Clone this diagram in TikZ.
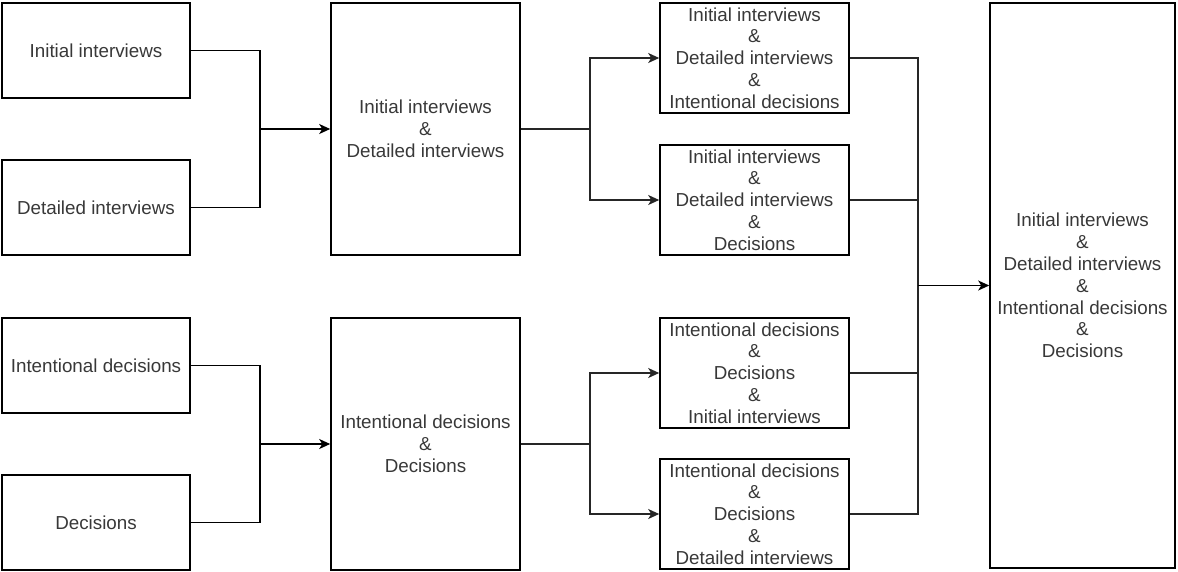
\documentclass[tikz,border=0pt]{standalone}
\usepackage{fontspec}
\setmainfont{Liberation Sans}
\usetikzlibrary{arrows.meta}
\begin{document}
\begin{tikzpicture}[x=1pt,y=-1pt,
  box/.style={draw=black, line width=1.6pt, rectangle, inner sep=0pt,
    align=center, text=black!78, font=\fontsize{18.8}{21.8}\selectfont},
  link/.style={line width=1.6pt, draw=black!85},
  tip/.style={-{Stealth[length=11pt,width=10pt,inset=3pt]}}]
\useasboundingbox (0,0) rectangle (1178,571);

% source boxes
\node[box, minimum width=188pt, minimum height=95pt] (i1) at (96,50.5) {Initial interviews};
\node[box, minimum width=188pt, minimum height=95pt] (i2) at (96,207.5) {Detailed interviews};
\node[box, minimum width=188pt, minimum height=95pt] (i3) at (96,365.5) {Intentional decisions};
\node[box, minimum width=188pt, minimum height=95pt] (i4) at (96,522.5) {Decisions};

% pairwise combinations
\node[box, minimum width=189pt, minimum height=252pt] (m1) at (425.5,129) {Initial interviews\\\&\\Detailed interviews};
\node[box, minimum width=189pt, minimum height=252pt] (m2) at (425.5,444) {Intentional decisions\\\&\\Decisions};

% triple combinations
\node[box, minimum width=189pt, minimum height=110pt] (a1) at (754.5,58) {Initial interviews\\\&\\Detailed interviews\\\&\\Intentional decisions};
\node[box, minimum width=189pt, minimum height=110pt] (a2) at (754.5,200) {Initial interviews\\\&\\Detailed interviews\\\&\\Decisions};
\node[box, minimum width=189pt, minimum height=110pt] (a3) at (754.5,373) {Intentional decisions\\\&\\Decisions\\\&\\Initial interviews};
\node[box, minimum width=189pt, minimum height=110pt] (a4) at (754.5,514) {Intentional decisions\\\&\\Decisions\\\&\\Detailed interviews};

% full combination
\node[box, minimum width=185pt, minimum height=565pt] (r) at (1082.5,285.5) {Initial interviews\\\&\\Detailed interviews\\\&\\Intentional decisions\\\&\\Decisions};

% junction points
\coordinate (j1) at (260,129);
\coordinate (j2) at (260,444);
\coordinate (b1) at (590,129);
\coordinate (b2) at (590,444);
\coordinate (j3) at (918,285.5);

% merging the sources
\draw[link, draw=black] (i1.east) -| (j1) |- (i2.east);
\draw[link, draw=black, tip] (j1) -- (m1.west);
\draw[link, draw=black] (i3.east) -| (j2) |- (i4.east);
\draw[link, draw=black, tip] (j2) -- (m2.west);

% branching to the triples
\draw[link] (m1.east) -- (b1);
\draw[link, tip] (b1) |- (a1.west);
\draw[link, tip] (b1) |- (a2.west);
\draw[link] (m2.east) -- (b2);
\draw[link, tip] (b2) |- (a3.west);
\draw[link, tip] (b2) |- (a4.west);

% merging into the full set
\draw[link] (a1.east) -| (j3);
\draw[link] (a2.east) -| (j3);
\draw[link] (a3.east) -| (j3);
\draw[link] (a4.east) -| (j3);
\draw[link, draw=black, tip] (j3) -- (r.west);
\end{tikzpicture}
\end{document}
